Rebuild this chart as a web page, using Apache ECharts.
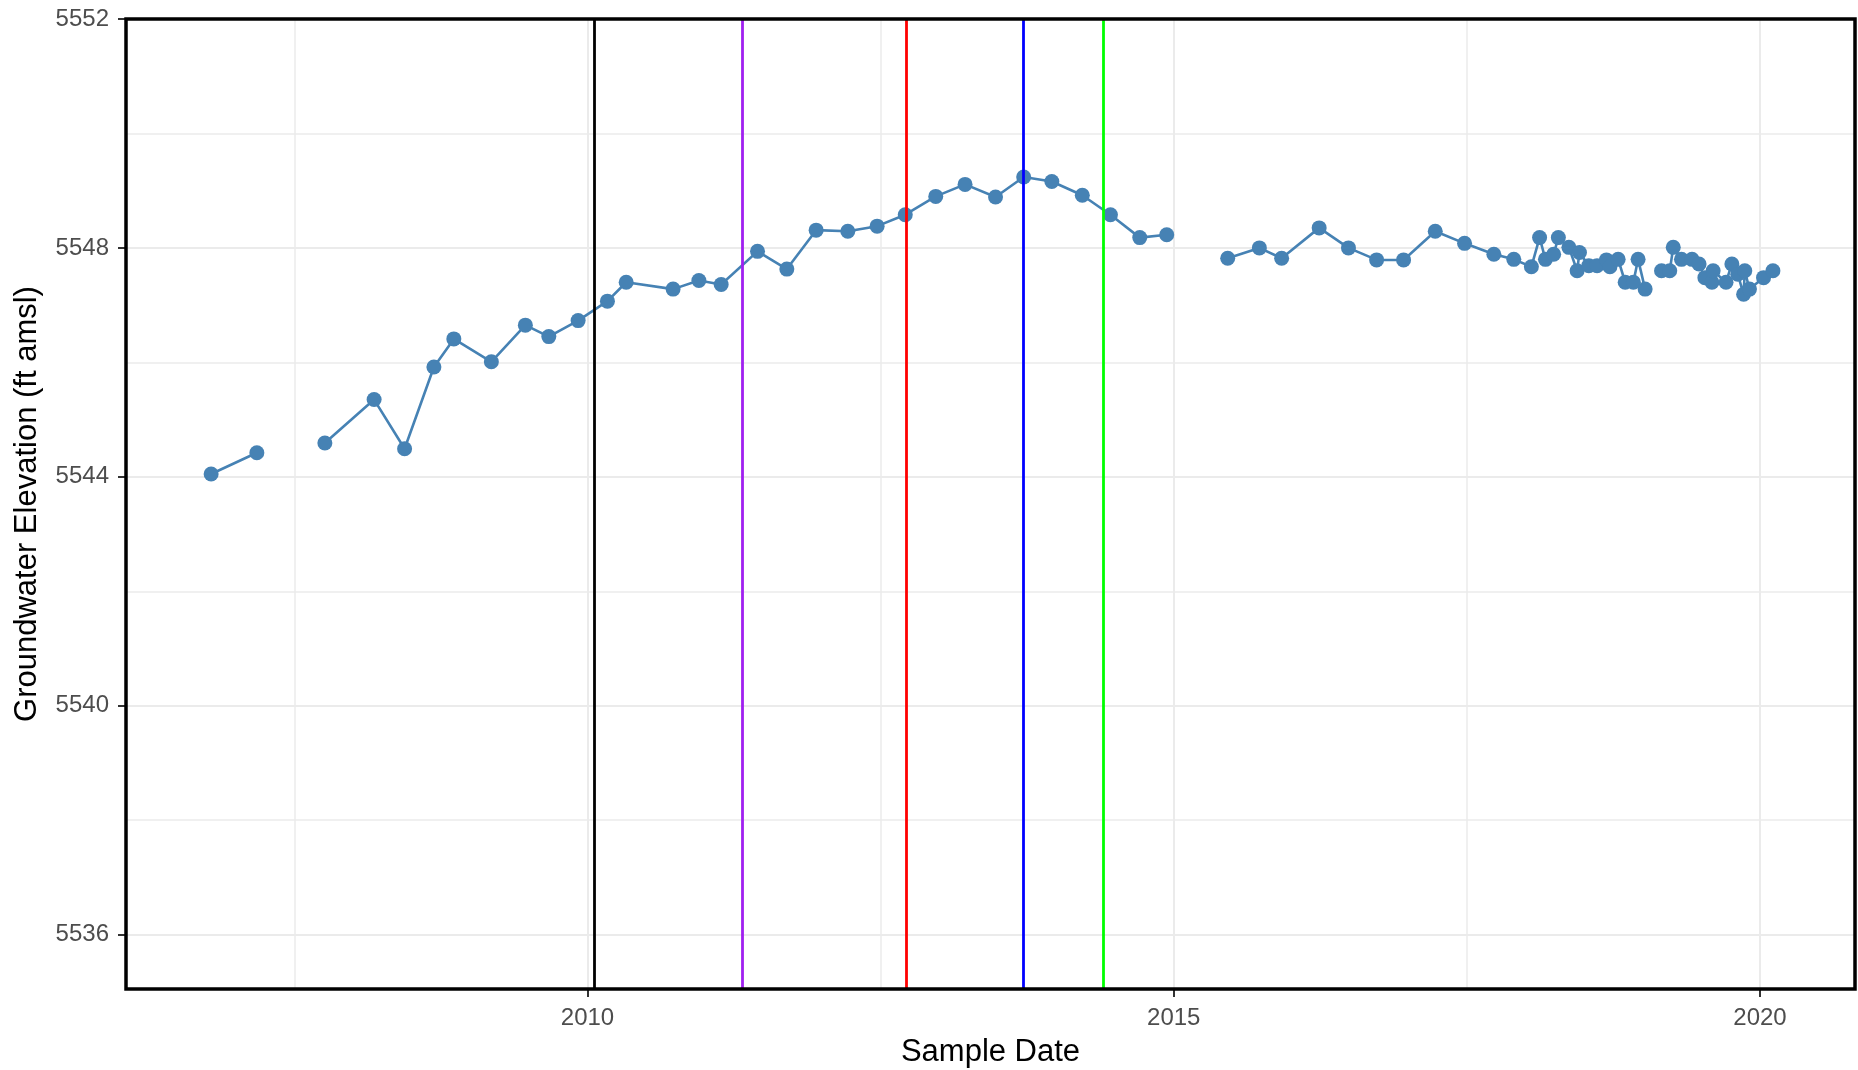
<!DOCTYPE html>
<html>
<head>
<meta charset="utf-8">
<script src="https://cdn.jsdelivr.net/npm/echarts@6/dist/echarts.min.js"></script>
<style>
  html, body { margin: 0; padding: 0; background: #ffffff; }
  #chart { width: 1858px; height: 1070px; }
</style>
</head>
<body>
<div id="chart"></div>
<script>
// ---- Data (decimal years; null = gap in the record) ----
const sampleDates = [
  2006.79, 2007.18, null,
  2007.76, 2008.18, 2008.44, 2008.69, 2008.86, 2009.18, 2009.47, 2009.67, 2009.92,
  2010.17, 2010.33, 2010.73, 2010.95, 2011.14, 2011.45, 2011.70, 2011.95, 2012.22,
  2012.47, 2012.71, 2012.97, 2013.22, 2013.48, 2013.72, 2013.96, 2014.22, 2014.46,
  2014.71, 2014.94, null,
  2015.46, 2015.73, 2015.92, 2016.24, 2016.49, 2016.73, 2016.96, 2017.23, 2017.48,
  2017.73, 2017.90, 2018.05, 2018.12, 2018.17, 2018.24, 2018.28, 2018.37, 2018.44,
  2018.46, 2018.54, 2018.61, 2018.69, 2018.72, 2018.79, 2018.85, 2018.92, 2018.96,
  2019.02, null,
  2019.16, 2019.23, 2019.26, 2019.33, 2019.42, 2019.48, 2019.53, 2019.59, 2019.60,
  2019.71, 2019.76, 2019.81, 2019.86, 2019.87, 2019.91, 2020.03, 2020.11
];
const elevations = [
  5544.05, 5544.42, null,
  5544.59, 5545.35, 5544.49, 5545.92, 5546.41, 5546.01, 5546.65, 5546.45, 5546.73,
  5547.07, 5547.40, 5547.28, 5547.43, 5547.36, 5547.94, 5547.63, 5548.31, 5548.29,
  5548.38, 5548.58, 5548.90, 5549.11, 5548.89, 5549.24, 5549.16, 5548.92, 5548.58,
  5548.18, 5548.23, null,
  5547.82, 5548.00, 5547.82, 5548.35, 5548.00, 5547.79, 5547.79, 5548.29, 5548.08,
  5547.89, 5547.80, 5547.67, 5548.18, 5547.80, 5547.89, 5548.18, 5548.01, 5547.60,
  5547.92, 5547.69, 5547.69, 5547.79, 5547.67, 5547.80, 5547.40, 5547.40, 5547.80,
  5547.28, null,
  5547.60, 5547.60, 5548.01, 5547.80, 5547.80, 5547.72, 5547.48, 5547.40, 5547.60,
  5547.40, 5547.72, 5547.54, 5547.19, 5547.60, 5547.28, 5547.48, 5547.60
];
// reference event dates (vertical lines)
const eventDates = [2010.064, 2011.318, 2012.719, 2013.720, 2014.400];
// axis ticks / grid
const xTicks = [2010, 2015, 2020];
const xMinor = [2007.5, 2012.5, 2017.5];
const yTicks = [5536, 5540, 5544, 5548, 5552];
const yMinor = [5538, 5542, 5546, 5550];
const xLimits = [2006.064, 2020.81];
const yLimits = [5535.05, 5552];

// ---- Styles ----
const eventColors = ['#000000', '#A020F0', '#FF0000', '#0000FF', '#00FF00'];
const pointColor = '#4682B4';
const gridColor = '#EBEBEB';
const font = '"Liberation Sans", Arial, sans-serif';

const seriesData = sampleDates.map((d, i) =>
  (d === null || elevations[i] === null) ? ['-', '-'] : [d, elevations[i]]);

const gridLines = []
  .concat(xTicks.map(v => ({ xAxis: v, lineStyle: { width: 2 } })))
  .concat(xMinor.map(v => ({ xAxis: v, lineStyle: { width: 1.5 } })))
  .concat(yTicks.map(v => ({ yAxis: v, lineStyle: { width: 2 } })))
  .concat(yMinor.map(v => ({ yAxis: v, lineStyle: { width: 1.5 } })));

const eventLines = eventDates.map((d, i) => ({
  xAxis: d, lineStyle: { color: eventColors[i], width: 2.8, type: 'solid' }
}));

const chart = echarts.init(document.getElementById('chart'), null, { renderer: 'canvas' });
chart.setOption({
  animation: false,
  backgroundColor: '#ffffff',
  grid: {
    left: 126, right: 3, top: 19, bottom: 81,
    containLabel: false,
    outerBoundsMode: 'none',
    show: true, borderColor: '#000000', borderWidth: 3.5,
    backgroundColor: 'transparent', z: 10
  },
  xAxis: {
    type: 'value',
    min: xLimits[0], max: xLimits[1],
    name: 'Sample Date',
    nameLocation: 'middle',
    nameGap: 48,
    nameTextStyle: { fontFamily: font, fontSize: 31, color: '#000000' },
    axisLine: { show: false },
    axisTick: { show: true, customValues: xTicks, length: 8, lineStyle: { color: '#333333', width: 2 } },
    axisLabel: { customValues: xTicks, margin: 17, fontFamily: font, fontSize: 24, color: '#4D4D4D',
                 formatter: v => String(Math.round(v)) },
    splitLine: { show: false }
  },
  yAxis: {
    type: 'value',
    min: yLimits[0], max: yLimits[1],
    name: 'Groundwater Elevation (ft amsl)',
    nameLocation: 'middle',
    nameGap: 83,
    nameRotate: 90,
    nameTextStyle: { fontFamily: font, fontSize: 31, color: '#000000' },
    axisLine: { show: false },
    axisTick: { show: true, customValues: yTicks, length: 8, lineStyle: { color: '#333333', width: 2 } },
    axisLabel: { customValues: yTicks, margin: 17, fontFamily: font, fontSize: 24, color: '#4D4D4D',
                 formatter: v => String(Math.round(v)) },
    splitLine: { show: false }
  },
  series: [
    {
      name: 'grid',
      type: 'line',
      data: [],
      z: 1,
      silent: true,
      markLine: {
        silent: true, z: 1, symbol: ['none', 'none'],
        label: { show: false },
        emphasis: { disabled: true },
        lineStyle: { color: gridColor, type: 'solid' },
        data: gridLines
      }
    },
    {
      name: 'Groundwater Elevation',
      type: 'line',
      data: seriesData,
      z: 3,
      connectNulls: false,
      symbol: 'circle',
      symbolSize: 15,
      showAllSymbol: true,
      itemStyle: { color: pointColor },
      lineStyle: { color: pointColor, width: 2.6 },
      emphasis: { disabled: true },
      markLine: {
        silent: true, z: 6, symbol: ['none', 'none'],
        label: { show: false },
        emphasis: { disabled: true },
        data: eventLines
      }
    }
  ]
});
</script>
</body>
</html>
